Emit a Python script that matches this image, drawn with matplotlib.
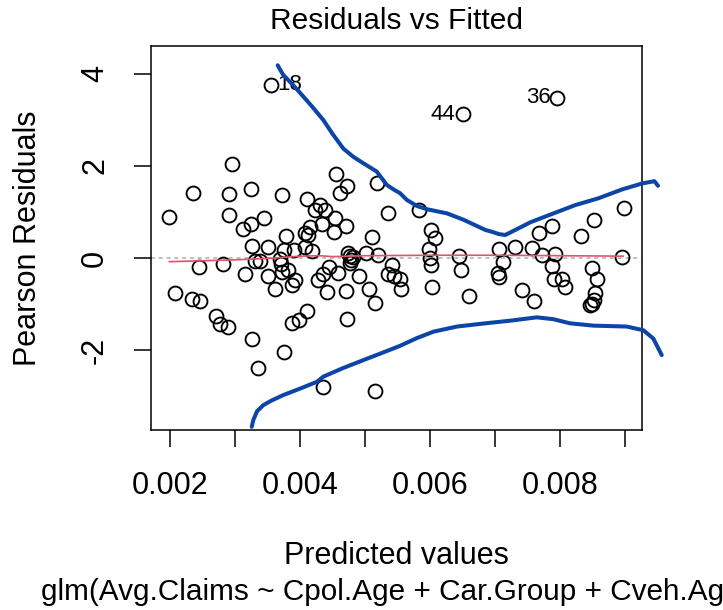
import matplotlib
matplotlib.use("Agg")
import matplotlib.pyplot as plt
import numpy as np

plt.rcParams['font.family'] = ['Liberation Sans', 'DejaVu Sans']

# Fitted values and Pearson residuals
fitted = [0.00199, 0.00208, 0.00235, 0.00244, 0.00234, 0.00246, 0.00270, 0.00277, 0.00289, 0.00281,
          0.00290, 0.00290, 0.00295, 0.00313, 0.00315, 0.00325, 0.00325, 0.00326, 0.00326, 0.00331,
          0.00338, 0.00335, 0.00344, 0.00350, 0.00350, 0.00355, 0.00362, 0.00372, 0.00369, 0.00376,
          0.00378, 0.00376, 0.00373, 0.00382, 0.00387, 0.00387, 0.00392, 0.00390, 0.00398, 0.00407,
          0.00412, 0.00416, 0.00410, 0.00411, 0.00408, 0.00418, 0.00423, 0.00428, 0.00431, 0.00434,
          0.00436, 0.00439, 0.00436, 0.00444, 0.00442, 0.00452, 0.00456, 0.00454, 0.00461, 0.00458,
          0.00470, 0.00470, 0.00473, 0.00473, 0.00474, 0.00477, 0.00481, 0.00477, 0.00479, 0.00490,
          0.00502, 0.00506, 0.00510, 0.00516, 0.00515, 0.00518, 0.00520, 0.00536, 0.00536, 0.00542,
          0.00544, 0.00554, 0.00556, 0.00583, 0.00598, 0.00602, 0.00607, 0.00600, 0.00601, 0.00603,
          0.00644, 0.00647, 0.00650, 0.00660, 0.00706, 0.00712, 0.00705, 0.00706, 0.00731, 0.00742,
          0.00757, 0.00760, 0.00767, 0.00772, 0.00788, 0.00788, 0.00793, 0.00790, 0.00796, 0.00803,
          0.00807, 0.00832, 0.00849, 0.00853, 0.00857, 0.00854, 0.00853, 0.00849, 0.00846, 0.00895,
          0.00898, 0.00371]
resid = [0.90, -0.75, 1.41, -0.20, -0.89, -0.93, -1.25, -1.44, -1.51, -0.13,
         1.39, 0.93, 2.04, 0.63, -0.35, 1.50, 0.74, -1.75, 0.27, -0.07,
         -0.07, -2.40, 0.87, 0.24, -0.40, 3.77, -0.67, 1.38, -0.03, -2.04,
         0.48, 0.18, -0.30, -0.26, -1.41, -0.58, -0.47, 0.18, -1.35, 0.54,
         0.50, 0.67, -1.15, 1.29, 0.23, 0.16, 1.04, -0.47, 1.15, 0.73,
         -2.80, 1.04, -0.35, -0.20, -0.73, 0.57, 1.83, 0.88, 1.41, -0.33,
         0.70, -0.72, 1.57, -1.33, 0.10, -0.10, 0.03, 0.05, -0.05, -0.40,
         0.10, -0.67, 0.46, -0.98, -2.89, 1.62, 0.07, 0.97, -0.34, -0.16,
         -0.40, -0.46, -0.67, 1.05, 0.19, 0.61, 0.43, 0.00, -0.16, -0.62,
         0.04, -0.25, 3.13, -0.83, 0.19, -0.09, -0.33, -0.41, 0.25, -0.70,
         0.21, -0.93, 0.54, 0.07, 0.70, -0.17, 0.09, -0.46, 3.48, -0.45,
         -0.62, 0.48, -0.22, 0.83, -0.45, -0.77, -0.91, -0.99, -1.02, 0.03,
         1.09, -0.12]

# Labelled points
label_text = ["18", "44", "36"]
label_x = [0.00355, 0.00650, 0.00796]
label_y = [3.77, 3.13, 3.48]
label_side = ["right", "left", "left"]

# Red smoother
smooth_x = [0.00199, 0.0025, 0.0030, 0.0035, 0.0040, 0.0043, 0.0045, 0.0050, 0.0060, 0.0070, 0.0080, 0.00897]
smooth_y = [-0.08, -0.06, -0.04, -0.01, 0.04, 0.05, 0.03, 0.05, 0.06, 0.06, 0.05, 0.04]

# Blue envelope curves
upper_x = [0.003657, 0.003700, 0.003743, 0.003900, 0.004051, 0.004200, 0.004358, 0.004500, 0.004666,
           0.004820, 0.004974, 0.005180, 0.005334, 0.005440, 0.005538,
           0.005646, 0.005800, 0.005954, 0.006262, 0.006518, 0.006700, 0.006851, 0.006954, 0.007060,
           0.007158, 0.007312, 0.007550, 0.007826,
           0.008235, 0.008595, 0.008954, 0.009262, 0.009452, 0.009508]
upper_y = [4.19, 4.08, 3.98, 3.75, 3.51, 3.27, 3.00, 2.70, 2.38,
           2.20, 2.06, 1.88, 1.59, 1.49, 1.41,
           1.26, 1.13, 1.06, 0.97, 0.83, 0.71, 0.61, 0.57, 0.52,
           0.50, 0.61, 0.78, 0.93,
           1.15, 1.30, 1.49, 1.62, 1.67, 1.57]
lower_x = [0.003257, 0.003282, 0.003340, 0.003435, 0.003560, 0.003743, 0.004000, 0.004262, 0.004358,
           0.004650, 0.004974, 0.005250, 0.005538, 0.005800, 0.006057,
           0.006415, 0.006851, 0.007250, 0.007642, 0.007897, 0.008154, 0.008512, 0.009026, 0.009282,
           0.009435, 0.009565]
lower_y = [-3.67, -3.52, -3.33, -3.20, -3.10, -2.98, -2.84, -2.69, -2.58,
           -2.40, -2.22, -2.07, -1.91, -1.74, -1.60,
           -1.49, -1.42, -1.36, -1.29, -1.33, -1.42, -1.47, -1.49, -1.57,
           -1.75, -2.11]

xticks = [0.002, 0.003, 0.004, 0.005, 0.006, 0.007, 0.008, 0.009]
xticklabels = ["0.002", "", "0.004", "", "0.006", "", "0.008", ""]
yticks = [-2, 0, 2, 4]
yticklabels = ["-2", "0", "2", "4"]

W, H = 723, 610
fig = plt.figure(figsize=(W / 100, H / 100), dpi=100)
ax = fig.add_axes([151 / W, 1 - 430 / H, (642 - 151) / W, (430 - 46) / H])

ax.set_xlim(0.002 + (151 - 170) / 65000, 0.002 + (642 - 170) / 65000)
ax.set_ylim(-(430 - 258) / 46, (258 - 46) / 46)

ax.axhline(0, color='#BEBEBE', lw=1.4, ls=(0, (2, 2)), zorder=1)
ax.plot(fitted, resid, ls='none', marker='o', ms=10, mfc='none', mec='black', mew=1.35, zorder=3)
ax.plot(smooth_x, smooth_y, color='#DF536B', lw=1.2, zorder=4)
ax.plot(upper_x, upper_y, color='#0B45A8', lw=2.9, clip_on=False, zorder=5,
        solid_capstyle='round', solid_joinstyle='round')
ax.plot(lower_x, lower_y, color='#0B45A8', lw=2.9, clip_on=False, zorder=5,
        solid_capstyle='round', solid_joinstyle='round')

for t, lx, ly, side in zip(label_text, label_x, label_y, label_side):
    if side == "right":
        ax.annotate(t, (lx, ly), xytext=(5, 0), textcoords='offset points',
                    ha='left', va='center', fontsize=16)
    else:
        ax.annotate(t, (lx, ly), xytext=(-5, 0), textcoords='offset points',
                    ha='right', va='center', fontsize=16)

ax.set_xticks(xticks)
ax.set_xticklabels(xticklabels)
ax.set_yticks(yticks)
ax.set_yticklabels(yticklabels, rotation=90, va='center')
ax.tick_params(axis='both', direction='out', length=12.5, width=1.1, labelsize=22)
ax.tick_params(axis='x', pad=17)
ax.tick_params(axis='y', pad=17)
for s in ax.spines.values():
    s.set_linewidth(1.1)

fig.text(396 / W, 1 - 21 / H, "Residuals vs Fitted", ha='center', va='center', fontsize=21.5)
fig.text(28 / W, 1 - 238 / H, "Pearson Residuals", ha='center', va='center', rotation=90, fontsize=22)
fig.text(396 / W, 1 - 556 / H, "Predicted values", ha='center', va='center', fontsize=22)
fig.text(41 / W, 1 - 592 / H, "glm(Avg.Claims ~ Cpol.Age + Car.Group + Cveh.Age)",
         ha='left', va='center', fontsize=21.4)

fig.savefig("out.png", dpi=100)
